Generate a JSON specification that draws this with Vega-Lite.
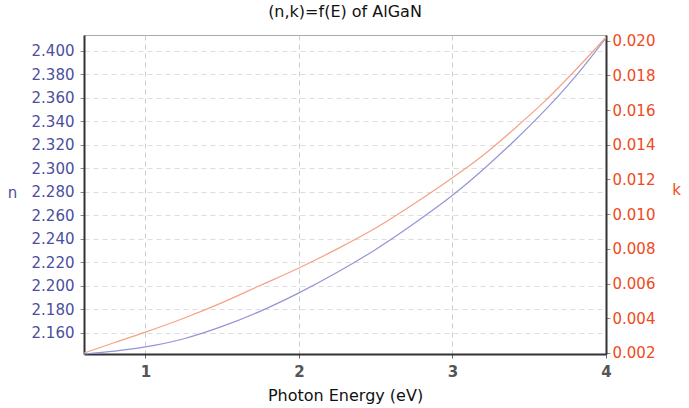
{
  "$schema": "https://vega.github.io/schema/vega-lite/v6.json",
  "width": 522,
  "height": 319,
  "autosize": {"type": "none"},
  "padding": {"left": 84, "top": 35, "right": 83, "bottom": 54},
  "background": "white",
  "config": {
    "font": "DejaVu Sans",
    "view": {"stroke": "#aaaaaa", "strokeWidth": 1}
  },
  "title": {
    "text": "(n,k)=f(E) of AlGaN",
    "fontSize": 16,
    "fontWeight": "normal",
    "color": "#111111",
    "font": "DejaVu Sans",
    "anchor": "middle",
    "offset": 14
  },
  "data": {
    "values": [
      {"E": 0.6, "n": 2.142, "k": 0.0020},
      {"E": 0.8, "n": 2.1445, "k": 0.0026},
      {"E": 1.0, "n": 2.148, "k": 0.0032},
      {"E": 1.25, "n": 2.155, "k": 0.0040},
      {"E": 1.5, "n": 2.1655, "k": 0.0049},
      {"E": 1.75, "n": 2.1785, "k": 0.0059},
      {"E": 2.0, "n": 2.194, "k": 0.0069},
      {"E": 2.25, "n": 2.2115, "k": 0.0080},
      {"E": 2.5, "n": 2.231, "k": 0.0092},
      {"E": 2.75, "n": 2.253, "k": 0.0106},
      {"E": 3.0, "n": 2.277, "k": 0.0121},
      {"E": 3.2, "n": 2.299, "k": 0.0134},
      {"E": 3.4, "n": 2.323, "k": 0.0149},
      {"E": 3.6, "n": 2.349, "k": 0.0165},
      {"E": 3.8, "n": 2.378, "k": 0.0183},
      {"E": 4.0, "n": 2.411, "k": 0.0202}
    ]
  },
  "encoding": {
    "x": {
      "field": "E",
      "type": "quantitative",
      "scale": {"domain": [0.6, 4], "nice": false, "zero": false},
      "axis": {
        "values": [1, 2, 3, 4],
        "title": "Photon Energy (eV)",
        "titleFontSize": 16,
        "titleFontWeight": "normal",
        "titleColor": "#111111",
        "titlePadding": 8,
        "labelFontSize": 15,
        "labelFontWeight": "bold",
        "labelColor": "#555555",
        "labelPadding": 6,
        "labelFlush": false,
        "domainColor": "#333333",
        "domainWidth": 2,
        "tickColor": "#666666",
        "tickSize": 4,
        "grid": true,
        "gridColor": "#cccccc",
        "gridDash": [5, 4]
      }
    }
  },
  "layer": [
    {
      "mark": {"type": "line", "color": "#9494d6", "strokeWidth": 1.2, "interpolate": "monotone"},
      "encoding": {
        "y": {
          "field": "n",
          "type": "quantitative",
          "scale": {"domain": [2.142, 2.4134], "nice": false, "zero": false},
          "axis": {
            "orient": "left",
            "values": [2.16, 2.18, 2.2, 2.22, 2.24, 2.26, 2.28, 2.3, 2.32, 2.34, 2.36, 2.38, 2.4],
            "format": ".3f",
            "title": "n",
            "titleAngle": 0,
            "titleX": -72,
            "titleY": 165,
            "titleFontSize": 15,
            "titleFontWeight": "normal",
            "titleColor": "#4b4f9e",
            "labelFontSize": 15,
            "labelColor": "#4b4f9e",
            "labelPadding": 6,
            "domainColor": "#333333",
            "domainWidth": 2,
            "tickColor": "#888888",
            "tickSize": 4,
            "grid": true,
            "gridColor": "#dddddd",
            "gridDash": [5, 4]
          }
        }
      }
    },
    {
      "mark": {"type": "line", "color": "#f4a285", "strokeWidth": 1.2, "interpolate": "monotone"},
      "encoding": {
        "y": {
          "field": "k",
          "type": "quantitative",
          "scale": {"domain": [0.00194, 0.02033], "nice": false, "zero": false},
          "axis": {
            "orient": "right",
            "values": [0.002, 0.004, 0.006, 0.008, 0.01, 0.012, 0.014, 0.016, 0.018, 0.02],
            "format": ".3f",
            "title": "k",
            "titleAngle": 0,
            "titleX": 70,
            "titleY": 162,
            "titleFontSize": 15,
            "titleFontWeight": "normal",
            "titleColor": "#f04a20",
            "labelFontSize": 15,
            "labelColor": "#f04a20",
            "labelPadding": 2,
            "domainColor": "#333333",
            "domainWidth": 2,
            "tickColor": "#888888",
            "tickSize": 4,
            "grid": false
          }
        }
      }
    }
  ],
  "resolve": {"scale": {"y": "independent"}}
}
